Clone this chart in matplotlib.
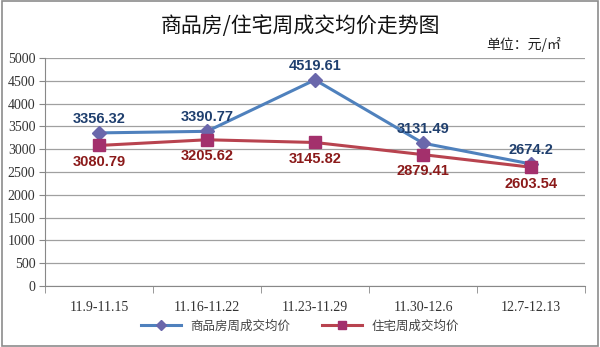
import matplotlib
matplotlib.use("Agg")
import matplotlib.pyplot as plt
from matplotlib.patches import Rectangle

categories = ["11.9-11.15", "11.16-11.22", "11.23-11.29", "11.30-12.6", "12.7-12.13"]
commercial = [3356.32, 3390.77, 4519.61, 3131.49, 2674.2]
residential = [3080.79, 3205.62, 3145.82, 2879.41, 2603.54]
commercial_labels = ["3356.32", "3390.77", "4519.61", "3131.49", "2674.2"]
residential_labels = ["3080.79", "3205.62", "3145.82", "2879.41", "2603.54"]
yticks = [0, 500, 1000, 1500, 2000, 2500, 3000, 3500, 4000, 4500, 5000]

cjk = ["Noto Sans CJK SC", "DejaVu Sans"]
serif = ["Liberation Serif", "DejaVu Serif"]

fig = plt.figure(figsize=(6.0, 3.47), dpi=100)
fig.patches.append(Rectangle((0.003, 0.003), 0.994, 0.994, transform=fig.transFigure,
                             fill=False, edgecolor="#8c8c8c", linewidth=1.2))

ax = fig.add_axes([0.075, 0.176, 0.90, 0.657])
x = list(range(len(categories)))
ax.plot(x, commercial, color="#4F81BD", linewidth=2.2, marker="D", markersize=7,
        markerfacecolor="#6A67AB", markeredgecolor="#6A67AB", label="商品房周成交均价", zorder=3)
ax.plot(x, residential, color="#B8434F", linewidth=2.2, marker="s", markersize=8.5,
        markerfacecolor="#A3306C", markeredgecolor="#A3306C", label="住宅周成交均价", zorder=3)

for xi, v, t in zip(x, commercial, commercial_labels):
    ax.annotate(t, (xi, v), xytext=(0, 5), textcoords="offset points", ha="center", va="bottom",
                fontsize=10.5, fontweight="bold", color="#1F3F6E", family=["Liberation Sans"])
for xi, v, t in zip(x, residential, residential_labels):
    ax.annotate(t, (xi, v), xytext=(0, -7), textcoords="offset points", ha="center", va="top",
                fontsize=10.5, fontweight="bold", color="#8B1A1A", family=["Liberation Sans"])

ax.set_xlim(-0.5, len(categories) - 0.5)
ax.set_ylim(0, 5000)
ax.set_yticks(yticks)
ax.set_yticklabels([str(v) for v in yticks], family=serif, fontsize=10, color="#333333")
ax.set_xticks(x)
ax.set_xticklabels(categories, family=serif, fontsize=10, color="#333333")
ax.set_xticks([i - 0.5 for i in range(len(categories) + 1)], minor=True)
ax.tick_params(axis="x", which="major", length=0, pad=11)
ax.tick_params(axis="x", which="minor", length=5, color="#888888")
ax.tick_params(axis="y", length=4, color="#888888", pad=3)
ax.grid(axis="y", color="#a0a0a0", linewidth=0.9)
ax.set_axisbelow(True)
for s in ["top", "right"]:
    ax.spines[s].set_visible(False)
for s in ["left", "bottom"]:
    ax.spines[s].set_color("#888888")

fig.text(0.5, 0.925, "商品房/住宅周成交均价走势图", ha="center", va="center",
         fontsize=15, family=cjk, color="#111111")
fig.text(0.935, 0.873, "单位：元/㎡", ha="right", va="center", fontsize=10, family=cjk, color="#222222")

leg = fig.legend(loc="center", bbox_to_anchor=(0.5, 0.06), ncol=2, frameon=False,
                 prop={"family": cjk, "size": 9}, handlelength=3.2, columnspacing=2.5,
                 markerscale=0.7)
for t in leg.get_texts():
    t.set_color("#444444")

fig.savefig("out.png", dpi=100)
